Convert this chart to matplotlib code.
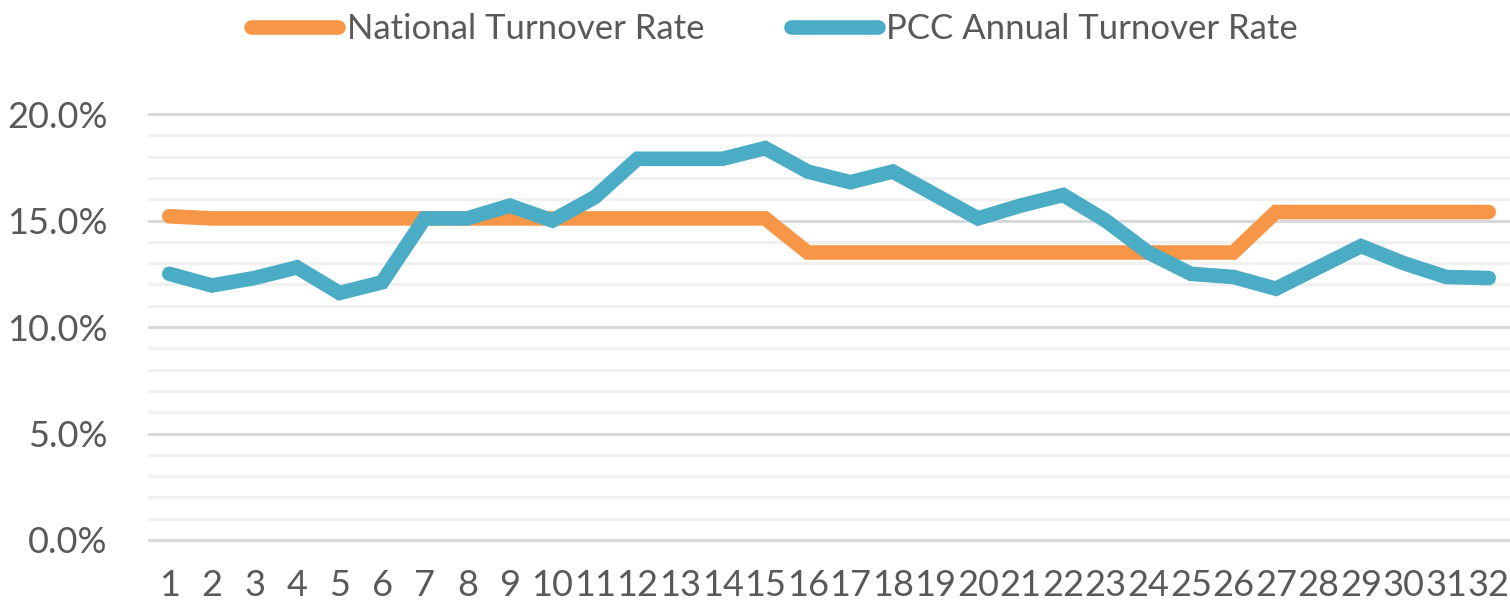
import matplotlib
matplotlib.use("Agg")
import matplotlib.pyplot as plt
from matplotlib.ticker import MultipleLocator, FuncFormatter

# Data (percent)
periods = list(range(1, 33))
national_rate = [15.2, 15.1, 15.1, 15.1, 15.1, 15.1, 15.1, 15.1, 15.1, 15.1,
                 15.1, 15.1, 15.1, 15.1, 15.1, 13.5, 13.5, 13.5, 13.5, 13.5,
                 13.5, 13.5, 13.5, 13.5, 13.5, 13.5, 15.4, 15.4, 15.4, 15.4,
                 15.4, 15.4]
pcc_rate = [12.5, 11.95, 12.3, 12.8, 11.6, 12.1, 15.1, 15.1, 15.7, 15.0,
            16.1, 17.9, 17.9, 17.9, 18.4, 17.3, 16.8, 17.3, 16.2, 15.1,
            15.7, 16.2, 15.0, 13.5, 12.5, 12.35, 11.8, 12.8, 13.8, 13.0,
            12.35, 12.3]
series_names = ["National Turnover Rate", "PCC Annual Turnover Rate"]

ORANGE = "#F79646"
BLUE = "#4BACC6"
TEXT = "#595959"

plt.rcParams["font.family"] = ["Lato", "DejaVu Sans"]

fig = plt.figure(figsize=(15.10, 6.06), dpi=100)
ax = fig.add_axes([148 / 1510, 0.1054, 1 - 148 / 1510, 0.7099])

ax.plot(periods, national_rate, color=ORANGE, lw=10.5, solid_capstyle="round",
        solid_joinstyle="miter", label=series_names[0], zorder=3)
ax.plot(periods, pcc_rate, color=BLUE, lw=10.5, solid_capstyle="round",
        solid_joinstyle="miter", label=series_names[1], zorder=4)

ax.set_xlim(0.5, 32.5)
ax.set_ylim(-0.1, 20.1)
ax.set_xticks(periods)
ax.set_xticklabels([str(p) for p in periods])
ax.yaxis.set_major_locator(MultipleLocator(5))
ax.yaxis.set_minor_locator(MultipleLocator(1))
ax.yaxis.set_major_formatter(FuncFormatter(lambda v, _: f"{v:.1f}%"))

ax.grid(axis="y", which="minor", color="#F0F0F0", lw=2.2, zorder=0)
ax.grid(axis="y", which="major", color="#D9D9D9", lw=2.2, zorder=1)
ax.set_axisbelow(True)
for s in ax.spines.values():
    s.set_visible(False)

ax.tick_params(axis="both", which="both", length=0, colors=TEXT, labelsize=26)
ax.tick_params(axis="x", pad=19)
ax.tick_params(axis="y", pad=29)

leg = fig.legend(loc="center", bbox_to_anchor=(0.513, 0.952), ncol=2,
                 frameon=False, fontsize=25, handlelength=2.5,
                 handletextpad=0.25, columnspacing=2.5)
for t in leg.get_texts():
    t.set_color(TEXT)

fig.savefig("out.png", dpi=100)
